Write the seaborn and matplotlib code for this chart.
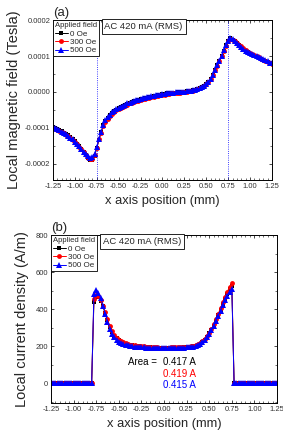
import numpy as np
import matplotlib
matplotlib.use("Agg")
import matplotlib.pyplot as plt
from matplotlib.ticker import FormatStrFormatter, MultipleLocator, AutoMinorLocator
import seaborn as sns

# x positions (mm), 0.025 mm step from -1.25 to 1.25
x_pos = np.round(np.arange(-1.25, 1.2501, 0.025), 3)

# (a) local magnetic field, in units of 1e-4 Tesla
field_0oe = [
    -0.97, -1.00, -1.03, -1.06, -1.09, -1.13, -1.17, -1.21, -1.26, -1.31,
    -1.37, -1.44, -1.51, -1.59, -1.67, -1.75, -1.83, -1.90, -1.89, -1.78,
    -1.57, -1.33, -1.12, -0.93, -0.80, -0.71, -0.64, -0.58, -0.53, -0.49,
    -0.45, -0.42, -0.39, -0.36, -0.33, -0.31, -0.28, -0.26, -0.24, -0.22,
    -0.20, -0.19, -0.17, -0.16, -0.14, -0.13, -0.12, -0.10, -0.09, -0.08,
    -0.06, -0.05, -0.04, -0.04, -0.03, -0.02, -0.02, -0.01, -0.01, 0.00,
    0.01, 0.02, 0.03, 0.04, 0.05, 0.06, 0.08, 0.11, 0.14, 0.18,
    0.23, 0.29, 0.37, 0.48, 0.61, 0.74, 0.87, 1.00, 1.15, 1.30,
    1.42, 1.49, 1.46, 1.41, 1.35, 1.30, 1.24, 1.18, 1.14, 1.10,
    1.07, 1.04, 1.01, 0.98, 0.95, 0.92, 0.90, 0.87, 0.84, 0.81,
    0.78]
field_300oe = [
    -0.99, -1.02, -1.05, -1.08, -1.11, -1.15, -1.19, -1.23, -1.28, -1.33,
    -1.39, -1.45, -1.52, -1.60, -1.68, -1.76, -1.83, -1.87, -1.86, -1.76,
    -1.56, -1.32, -1.13, -0.96, -0.83, -0.74, -0.67, -0.61, -0.56, -0.51,
    -0.47, -0.44, -0.41, -0.38, -0.35, -0.32, -0.30, -0.28, -0.26, -0.24,
    -0.22, -0.20, -0.19, -0.17, -0.16, -0.14, -0.13, -0.12, -0.10, -0.09,
    -0.08, -0.07, -0.06, -0.05, -0.04, -0.04, -0.03, -0.02, -0.02, -0.01,
    0.00, 0.01, 0.02, 0.03, 0.04, 0.05, 0.07, 0.10, 0.13, 0.17,
    0.22, 0.28, 0.36, 0.47, 0.60, 0.73, 0.86, 1.00, 1.14, 1.29,
    1.41, 1.48, 1.46, 1.42, 1.37, 1.32, 1.27, 1.21, 1.16, 1.12,
    1.08, 1.05, 1.02, 0.99, 0.96, 0.93, 0.90, 0.87, 0.84, 0.80,
    0.77]
field_500oe = [
    -0.98, -1.01, -1.04, -1.07, -1.10, -1.14, -1.18, -1.22, -1.27, -1.32,
    -1.38, -1.44, -1.51, -1.58, -1.66, -1.73, -1.79, -1.83, -1.82, -1.73,
    -1.54, -1.31, -1.10, -0.92, -0.79, -0.70, -0.63, -0.57, -0.52, -0.48,
    -0.44, -0.41, -0.38, -0.35, -0.32, -0.30, -0.27, -0.25, -0.23, -0.21,
    -0.19, -0.18, -0.16, -0.15, -0.13, -0.12, -0.11, -0.09, -0.08, -0.07,
    -0.06, -0.05, -0.04, -0.03, -0.03, -0.02, -0.01, -0.01, 0.00, 0.00,
    0.01, 0.02, 0.03, 0.04, 0.05, 0.06, 0.08, 0.11, 0.14, 0.18,
    0.23, 0.29, 0.37, 0.48, 0.61, 0.74, 0.87, 1.01, 1.16, 1.31,
    1.43, 1.50, 1.48, 1.43, 1.37, 1.31, 1.25, 1.20, 1.15, 1.11,
    1.08, 1.05, 1.02, 0.99, 0.96, 0.94, 0.91, 0.88, 0.85, 0.82,
    0.80]

# (b) local current density (A/m)
jc_0oe = [
    0, 0, 0, 0, 0, 0, 0, 0, 0, 0,
    0, 0, 0, 0, 0, 0, 0, 0, 0, 440,
    470, 465, 445, 415, 380, 342, 305, 278, 258, 243,
    232, 224, 218, 213, 210, 207, 205, 203, 202, 200,
    199, 198, 197, 196, 195, 193, 188, 184, 186, 189,
    190, 191, 191, 191, 191, 192, 192, 193, 193, 194,
    195, 196, 198, 200, 203, 208, 215, 224, 235, 252,
    270, 290, 312, 338, 368, 398, 428, 458, 484, 508,
    525, 0, 0, 0, 0, 0, 0, 0, 0, 0,
    0, 0, 0, 0, 0, 0, 0, 0, 0, 0,
    0]
jc_300oe = [
    0, 0, 0, 0, 0, 0, 0, 0, 0, 0,
    0, 0, 0, 0, 0, 0, 0, 0, 0, 455,
    478, 470, 448, 418, 384, 346, 310, 282, 261, 246,
    235, 227, 221, 216, 212, 209, 207, 205, 204, 202,
    201, 200, 199, 198, 197, 196, 195, 194, 193, 193,
    193, 193, 193, 194, 194, 194, 195, 195, 196, 196,
    197, 199, 201, 203, 206, 211, 218, 228, 240, 256,
    274, 294, 318, 345, 376, 407, 438, 468, 495, 520,
    540, 0, 0, 0, 0, 0, 0, 0, 0, 0,
    0, 0, 0, 0, 0, 0, 0, 0, 0, 0,
    0]
jc_500oe = [
    0, 0, 0, 0, 0, 0, 0, 0, 0, 0,
    0, 0, 0, 0, 0, 0, 0, 0, 0, 480,
    505, 490, 460, 420, 376, 334, 296, 268, 248, 234,
    224, 217, 212, 208, 205, 202, 200, 198, 197, 196,
    195, 194, 193, 192, 191, 190, 189, 189, 189, 189,
    189, 189, 190, 190, 190, 191, 191, 192, 192, 193,
    194, 195, 197, 199, 202, 206, 212, 221, 232, 248,
    266, 287, 310, 336, 364, 393, 422, 450, 474, 495,
    508, 0, 0, 0, 0, 0, 0, 0, 0, 0,
    0, 0, 0, 0, 0, 0, 0, 0, 0, 0,
    0]

labels = ["0 Oe", "300 Oe", "500 Oe"]
colors = ["black", "red", "blue"]
markers = ["s", "o", "^"]
msizes = [3.0, 3.5, 4.3]
areas = ["0.417 A", "0.419 A", "0.415 A"]

sns.set_style("ticks")
plt.rcParams['font.family'] = ['Liberation Sans', 'DejaVu Sans']

fig = plt.figure(figsize=(2.83, 4.37), dpi=100)
ax1 = fig.add_axes([0.187, 0.588, 0.774, 0.366])
ax2 = fig.add_axes([0.180, 0.078, 0.799, 0.384])


def style_axes(ax):
    for s in ax.spines.values():
        s.set_linewidth(0.7)
        s.set_color('black')
    ax.tick_params(which='both', direction='in', top=True, right=True,
                   labelsize=5.5, colors='black', labelcolor='#333333', pad=2)
    ax.tick_params(which='major', length=2.5, width=0.5)
    ax.tick_params(which='minor', length=1.3, width=0.4)
    ax.set_xlim(-1.25, 1.25)
    ax.xaxis.set_major_locator(MultipleLocator(0.25))
    ax.xaxis.set_minor_locator(AutoMinorLocator(5))
    ax.xaxis.set_major_formatter(FormatStrFormatter('%.2f'))
    ax.set_xlabel("x axis position (mm)", fontsize=9.3, labelpad=4)


def add_legend(ax):
    leg = ax.legend(title="Applied field", loc="upper left", fontsize=5.8,
                    title_fontsize=5.5, frameon=True, fancybox=False,
                    edgecolor='black', framealpha=1, borderpad=0.25,
                    handlelength=1.6, labelspacing=0.1, handletextpad=0.3,
                    borderaxespad=0, alignment='left')
    leg.get_frame().set_linewidth(0.6)


series_a = [field_0oe, field_300oe, field_500oe]
for vals, lab, c, m, ms in zip(series_a, labels, colors, markers, msizes):
    sns.lineplot(x=x_pos, y=np.array(vals) * 1e-4, ax=ax1, color=c, marker=m,
                 markersize=ms, markeredgewidth=0, linewidth=0.7, label=lab)
for xv in [-0.75, 0.75]:
    ax1.axvline(xv, color='blue', linestyle=':', linewidth=0.6)
style_axes(ax1)
ax1.set_ylim(-0.000245, 0.0002)
ax1.set_yticks([-0.0002, -0.0001, 0.0, 0.0001, 0.0002])
ax1.yaxis.set_minor_locator(AutoMinorLocator(2))
ax1.yaxis.set_major_formatter(FormatStrFormatter('%.4f'))
ax1.set_ylabel("Local magnetic field (Tesla)", fontsize=10.5, labelpad=3)
add_legend(ax1)
ax1.text(0.235, 0.99, "AC 420 mA (RMS)", transform=ax1.transAxes, va='top',
         ha='left', fontsize=6.8,
         bbox=dict(boxstyle='square,pad=0.3', fc='white', ec='black', lw=0.6))
ax1.text(0.0, 1.005, "(a)", transform=ax1.transAxes, ha='left', va='bottom',
         fontsize=9.5)

series_b = [jc_0oe, jc_300oe, jc_500oe]
for vals, lab, c, m, ms in zip(series_b, labels, colors, markers, msizes):
    sns.lineplot(x=x_pos, y=vals, ax=ax2, color=c, marker=m,
                 markersize=ms, markeredgewidth=0, linewidth=0.7, label=lab)
style_axes(ax2)
ax2.set_ylim(-105, 800)
ax2.set_yticks([0, 200, 400, 600, 800])
ax2.yaxis.set_minor_locator(AutoMinorLocator(2))
ax2.set_ylabel("Local current density (A/m)", fontsize=10.5, labelpad=5)
add_legend(ax2)
ax2.text(0.23, 0.99, "AC 420 mA (RMS)", transform=ax2.transAxes, va='top',
         ha='left', fontsize=6.8,
         bbox=dict(boxstyle='square,pad=0.3', fc='white', ec='black', lw=0.6))
ax2.text(0.0, 1.005, "(b)", transform=ax2.transAxes, ha='left', va='bottom',
         fontsize=9.5)
ax2.text(-0.08, 113, "Area =", ha='right', va='center', fontsize=7,
         color='black')
for i, (txt, c) in enumerate(zip(areas, colors)):
    ax2.text(-0.01, 113 - 62 * i, txt, ha='left', va='center', fontsize=7,
             color=c)

fig.savefig("out.png", dpi=100)
